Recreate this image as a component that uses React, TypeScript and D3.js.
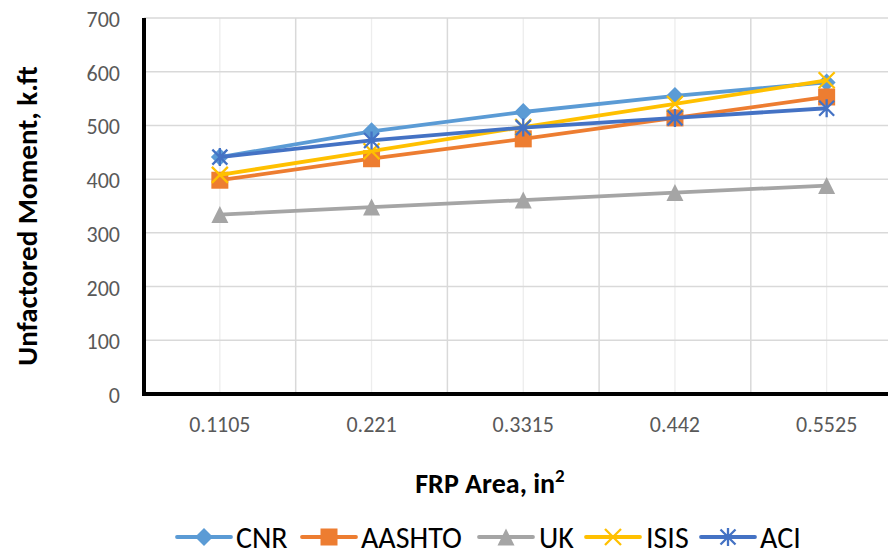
import React from "react";
import * as d3 from "d3";

const categories = ["0.1105", "0.221", "0.3315", "0.442", "0.5525"];
const seriesNames = ["CNR", "AASHTO", "UK", "ISIS", "ACI"];
const cnr = [441, 489, 525, 555, 580];
const aashto = [398, 438, 475, 514, 553];
const uk = [334, 348, 361, 375, 388];
const isis = [408, 452, 497, 540, 584];
const aci = [441, 472, 496, 514, 532];
const yTicks = [0, 100, 200, 300, 400, 500, 600, 700];

const colors = ["#5B9BD5", "#ED7D31", "#A5A5A5", "#FFC000", "#4472C4"];
const markers = ["diamond", "square", "triangle", "x", "star"];
const FONT = "Carlito, Calibri, Lato, sans-serif";

function Marker({ type, color, x, y }: { type: string; color: string; x: number; y: number }) {
  if (type === "diamond") {
    const s = 9;
    return <path d={`M${x},${y - s}L${x + s},${y}L${x},${y + s}L${x - s},${y}Z`} fill={color} />;
  }
  if (type === "square") {
    const s = 8.5;
    return <rect x={x - s} y={y - s} width={2 * s} height={2 * s} fill={color} />;
  }
  if (type === "triangle") {
    const s = 8.5;
    return <path d={`M${x},${y - s}L${x + s},${y + s}L${x - s},${y + s}Z`} fill={color} />;
  }
  if (type === "x") {
    const s = 8;
    return (
      <path
        d={`M${x - s},${y - s}L${x + s},${y + s}M${x + s},${y - s}L${x - s},${y + s}`}
        stroke={color}
        strokeWidth={2.3}
      />
    );
  }
  const s = 7.5;
  return (
    <path
      d={`M${x - s},${y - s}L${x + s},${y + s}M${x + s},${y - s}L${x - s},${y + s}M${x},${y - s - 1.5}L${x},${y + s + 1.5}`}
      stroke={color}
      strokeWidth={2.3}
    />
  );
}

export default function App() {
  const W = 888;
  const H = 555;
  const left = 144;
  const top = 18;
  const bottom = 394;
  const x = d3.scaleBand<string>().domain(categories).range([left, left + 5 * 151.7]);
  const y = d3.scaleLinear().domain([0, 700]).range([bottom, top]);
  const data = [cnr, aashto, uk, isis, aci];
  const cx = (i: number) => (x(categories[i]) as number) + x.bandwidth() / 2;
  const line = d3
    .line<number>()
    .x((_, i) => cx(i))
    .y((d) => y(d));

  const legendItems = [
    { lx: 177, tx: 236 },
    { lx: 302, tx: 361 },
    { lx: 479, tx: 539 },
    { lx: 586, tx: 646 },
    { lx: 701, tx: 760 },
  ];
  const legendY = 537;

  return (
    <svg
      width={W}
      height={H}
      style={{ position: "absolute", left: 0, top: 0, background: "#fff" }}
      fontFamily={FONT}
    >
      {/* faint gridlines at category centres */}
      {categories.map((c, i) => (
        <line key={"c" + c} x1={cx(i)} x2={cx(i)} y1={top} y2={bottom} stroke="#EDEDED" strokeWidth={1.3} />
      ))}
      {/* gridlines at category boundaries */}
      {categories.map((c) => (
        <line
          key={"b" + c}
          x1={(x(c) as number) + x.bandwidth()}
          x2={(x(c) as number) + x.bandwidth()}
          y1={top}
          y2={bottom}
          stroke="#D9D9D9"
          strokeWidth={1.5}
        />
      ))}
      {yTicks.map((t) => (
        <g key={t}>
          {t > 0 && <line x1={left} x2={W} y1={y(t)} y2={y(t)} stroke="#D9D9D9" strokeWidth={1.5} />}
          <text x={120} y={y(t) + 9} textAnchor="end" fontSize={22} fill="#595959">
            {t}
          </text>
        </g>
      ))}
      {/* axes */}
      <line x1={left} x2={left} y1={top} y2={bottom + 2} stroke="#000" strokeWidth={4} />
      <line x1={left - 2} x2={W} y1={bottom} y2={bottom} stroke="#000" strokeWidth={4} />
      {categories.map((c, i) => (
        <text key={"l" + c} x={cx(i)} y={432} textAnchor="middle" fontSize={22} fill="#595959">
          {c}
        </text>
      ))}
      {/* series */}
      {data.map((vals, si) => (
        <g key={seriesNames[si]}>
          <path d={line(vals) as string} fill="none" stroke={colors[si]} strokeWidth={3.8} strokeLinejoin="round" />
          {vals.map((v, i) => (
            <Marker key={i} type={markers[si]} color={colors[si]} x={cx(i)} y={y(v)} />
          ))}
        </g>
      ))}
      {/* axis titles */}
      <text transform={`translate(37,216) rotate(-90)`} textAnchor="middle" fontSize={29} fontWeight="bold" fill="#000">
        Unfactored Moment, k.ft
      </text>
      <text x={490} y={493} textAnchor="middle" fontSize={28} fontWeight="bold" fill="#000">
        FRP Area, in<tspan dy={-11} fontSize={19}>2</tspan>
      </text>
      {/* legend */}
      {legendItems.map((it, si) => (
        <g key={"leg" + si}>
          <line
            x1={it.lx}
            x2={it.lx + 54}
            y1={legendY}
            y2={legendY}
            stroke={colors[si]}
            strokeWidth={3.8}
            strokeLinecap="round"
          />
          <Marker type={markers[si]} color={colors[si]} x={it.lx + 27} y={legendY} />
          <text x={it.tx} y={legendY + 10.5} fontSize={30} fill="#000">
            {seriesNames[si]}
          </text>
        </g>
      ))}
    </svg>
  );
}
